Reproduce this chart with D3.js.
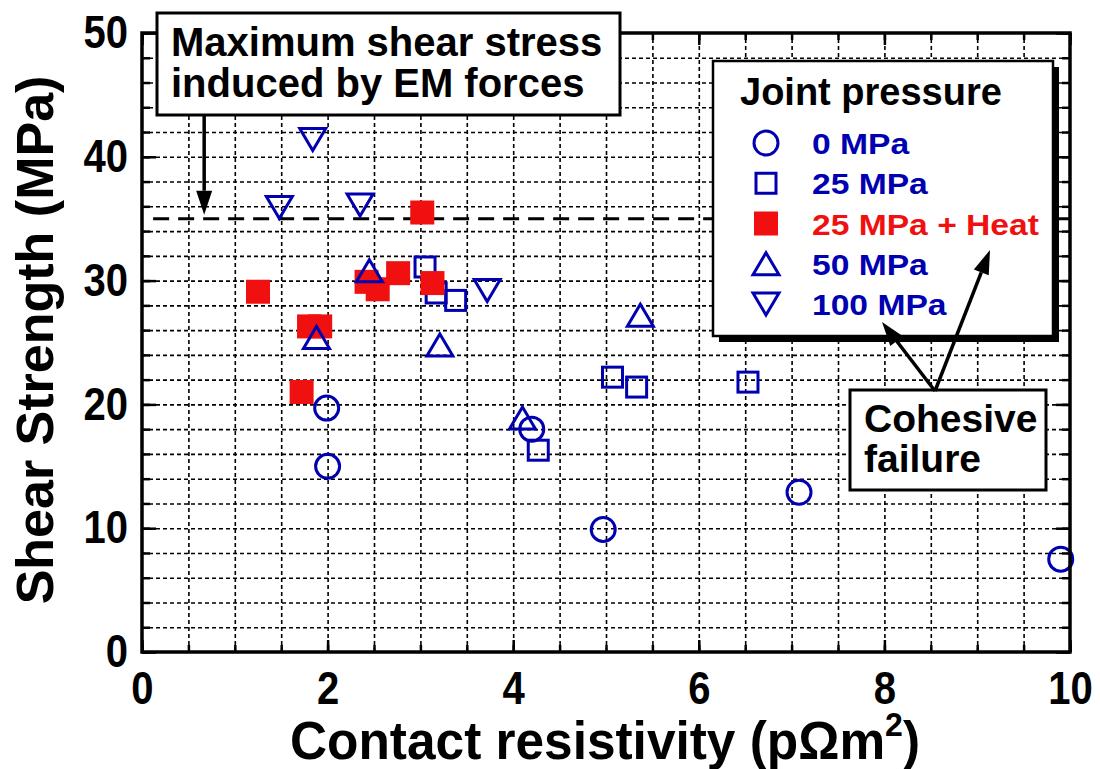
<!DOCTYPE html>
<html>
<head>
<meta charset="utf-8">
<script src="https://cdn.jsdelivr.net/npm/d3@7"></script>
<style>
  body { margin: 0; background: #fff; }
  text { font-family: "Liberation Sans", Arial, sans-serif; font-weight: bold; }
</style>
</head>
<body>
<div id="chart"></div>
<script>
// series: [resistivity, shear strength]
var seriesNames = ["0 MPa", "25 MPa", "25 MPa + Heat", "50 MPa", "100 MPa"];
var mpa0 = [[1.99, 19.7], [2.0, 15.0], [4.2, 18.0], [4.97, 9.9], [7.08, 12.9], [9.9, 7.5]];
var mpa25 = [[3.05, 31.1], [3.17, 29.0], [3.38, 28.4], [4.27, 16.3], [5.07, 22.2], [5.33, 21.4], [6.53, 21.8]];
var mpa25heat = [[1.25, 29.1], [1.72, 21.0], [1.8, 26.3], [1.92, 26.3], [2.42, 29.9], [2.54, 29.3], [2.76, 30.6], [3.02, 35.5], [3.13, 29.8]];
var mpa50 = [[1.88, 25.4], [2.45, 30.8], [3.21, 24.8], [4.1, 18.9], [5.37, 27.2]];
var mpa100 = [[1.48, 35.9], [1.84, 41.4], [2.35, 36.1], [3.72, 29.2]];
var emLimit = 35;
var xTicks = [0, 2, 4, 6, 8, 10];
var yTicks = [0, 10, 20, 30, 40, 50];

var blue = "#0000b0";
var red = "#f01010";

var svgWidth = 1100;
var svgHeight = 769;
var margin = { top: 33, right: 30, bottom: 117, left: 142 };

var svg = d3.select("#chart")
  .append("svg")
  .attr("width", svgWidth)
  .attr("height", svgHeight);

var x = d3.scaleLinear().domain([0, 10]).range([margin.left, svgWidth - margin.right]);
var y = d3.scaleLinear().domain([0, 50]).range([svgHeight - margin.bottom, margin.top]);

var x0 = x(0), x1 = x(10), y0 = y(0), y1 = y(50);
var plotH = y0 - y1, plotW = x1 - x0;

// squeeze or stretch text horizontally like the scanned figure
function stretch(sel, k) {
  sel.each(function() {
    var w = this.getComputedTextLength();
    d3.select(this).attr("textLength", w * k).attr("lengthAdjust", "spacingAndGlyphs");
  });
}

// dotted grid
var grid = svg.append("g").attr("class", "grid");
grid.append("g")
  .attr("transform", `translate(0, ${y0})`)
  .call(d3.axisBottom(x).tickValues(d3.range(0.5, 10, 0.5)).tickSize(-plotH).tickFormat(""));
grid.append("g")
  .attr("transform", `translate(${x0}, 0)`)
  .call(d3.axisLeft(y).tickValues(d3.range(2, 50, 2)).tickSize(-plotW).tickFormat(""));
grid.selectAll(".domain").remove();
grid.selectAll("line")
  .attr("stroke", "#000")
  .attr("stroke-width", 1.6)
  .attr("stroke-dasharray", "4,3");

// EM force limit line
svg.append("line")
  .attr("x1", x(0.12)).attr("x2", x(10))
  .attr("y1", y(emLimit)).attr("y2", y(emLimit))
  .attr("stroke", "#000")
  .attr("stroke-width", 3)
  .attr("stroke-dasharray", "16,9");

// markers
function tri(up) {
  var h = 11, w = 13;
  return up ? `M0,${-h}L${w},${h}L${-w},${h}Z` : `M0,${h}L${w},${-h}L${-w},${-h}Z`;
}
function drawMarker(g, kind) {
  if (kind === 0) {
    g.append("circle").attr("r", 12).attr("fill", "none").attr("stroke", blue).attr("stroke-width", 3);
  } else if (kind === 1) {
    g.append("rect").attr("x", -10).attr("y", -10).attr("width", 20).attr("height", 20)
      .attr("fill", "none").attr("stroke", blue).attr("stroke-width", 3);
  } else if (kind === 2) {
    g.append("rect").attr("x", -12).attr("y", -12).attr("width", 24).attr("height", 24)
      .attr("fill", red);
  } else {
    g.append("path").attr("d", tri(kind === 3)).attr("fill", "none")
      .attr("stroke", blue).attr("stroke-width", 3).attr("stroke-linejoin", "miter");
  }
}

var allSeries = [mpa0, mpa25, mpa25heat, mpa50, mpa100];
allSeries.forEach(function(data, k) {
  svg.append("g").selectAll("g")
    .data(data)
    .enter()
    .append("g")
    .attr("transform", d => `translate(${x(d[0])}, ${y(d[1])})`)
    .each(function() { drawMarker(d3.select(this), k); });
});

// frame and inward ticks
var axes = svg.append("g");
function tickAxis(axisFn, scale, vals, size, tr) {
  axes.append("g")
    .attr("transform", tr)
    .call(axisFn(scale).tickValues(vals).tickSize(-size).tickFormat(""));
}
var xMinor = d3.range(0, 10.01, 0.5), yMinor = d3.range(0, 50.1, 2);
tickAxis(d3.axisBottom, x, xMinor, 7, `translate(0, ${y0})`);
tickAxis(d3.axisBottom, x, xTicks, 12, `translate(0, ${y0})`);
tickAxis(d3.axisTop, x, xMinor, 7, `translate(0, ${y1})`);
tickAxis(d3.axisTop, x, xTicks, 12, `translate(0, ${y1})`);
tickAxis(d3.axisLeft, y, yMinor, 8, `translate(${x0}, 0)`);
tickAxis(d3.axisLeft, y, yTicks, 14, `translate(${x0}, 0)`);
tickAxis(d3.axisRight, y, yMinor, 8, `translate(${x1}, 0)`);
tickAxis(d3.axisRight, y, yTicks, 14, `translate(${x1}, 0)`);
axes.selectAll(".domain").remove();
axes.selectAll("line").attr("stroke", "#000").attr("stroke-width", 2.5);

svg.append("rect")
  .attr("x", x0).attr("y", y1).attr("width", plotW).attr("height", plotH)
  .attr("fill", "none").attr("stroke", "#000").attr("stroke-width", 3.5);

// tick labels
var xLab = svg.append("g")
  .attr("transform", `translate(0, ${y0})`)
  .call(d3.axisBottom(x).tickValues(xTicks).tickSize(0).tickPadding(19).tickFormat(d3.format("d")));
var yLab = svg.append("g")
  .attr("transform", `translate(${x0}, 0)`)
  .call(d3.axisLeft(y).tickValues(yTicks).tickSize(0).tickPadding(14).tickFormat(d3.format("d")));
[xLab, yLab].forEach(function(g) {
  g.select(".domain").remove();
  g.selectAll("text").attr("font-size", 46).attr("fill", "#000")
    .style("font-family", '"Liberation Sans", Arial, sans-serif').style("font-weight", "bold")
    .call(stretch, 0.87);
});

// axis titles
var xTitle = svg.append("text")
  .attr("x", 605).attr("y", 759)
  .attr("text-anchor", "middle")
  .attr("font-size", 53);
xTitle.append("tspan").text("Contact resistivity (p\u03A9m");
xTitle.append("tspan").attr("font-size", 33).attr("dy", -23).text("2");
xTitle.append("tspan").attr("dy", 23).text(")");
xTitle.attr("textLength", 630).attr("lengthAdjust", "spacingAndGlyphs");

svg.append("text")
  .attr("transform", "translate(53, 340) rotate(-90)")
  .attr("text-anchor", "middle")
  .attr("font-size", 52)
  .text("Shear Strength (MPa)");

// annotation: max shear stress
var tipX = x(0.67), tipY = y(emLimit) - 4;
function arrow(xa, ya, xb, yb) {
  var ang = Math.atan2(yb - ya, xb - xa);
  var len = 24, half = 8;
  var bx = xb - len * Math.cos(ang), by = yb - len * Math.sin(ang);
  svg.append("line")
    .attr("x1", xa).attr("y1", ya).attr("x2", bx).attr("y2", by)
    .attr("stroke", "#000").attr("stroke-width", 3.5);
  var px = -Math.sin(ang) * half, py = Math.cos(ang) * half;
  svg.append("path")
    .attr("d", `M${xb},${yb}L${bx + px},${by + py}L${bx - px},${by - py}Z`)
    .attr("fill", "#000");
}

svg.append("rect")
  .attr("x", 157).attr("y", 13).attr("width", 463).attr("height", 102)
  .attr("fill", "#fff").attr("stroke", "#000").attr("stroke-width", 3);
svg.append("text").attr("x", 171).attr("y", 56).attr("font-size", 40).text("Maximum shear stress");
svg.append("text").attr("x", 171).attr("y", 97).attr("font-size", 40).text("induced by EM forces");
arrow(tipX, 115, tipX, tipY);

// legend
var lg = svg.append("g");
lg.append("rect")
  .attr("x", 719).attr("y", 67).attr("width", 340).attr("height", 275)
  .attr("fill", "#000");
lg.append("rect")
  .attr("x", 713).attr("y", 61).attr("width", 340).attr("height", 275)
  .attr("fill", "#fff").attr("stroke", "#000").attr("stroke-width", 2.5);
lg.append("text").attr("x", 740).attr("y", 105).attr("font-size", 38).attr("fill", "#000")
  .text("Joint pressure");
var rowY = d3.scaleLinear().domain([0, 4]).range([143, 304]);
seriesNames.forEach(function(name, k) {
  var row = lg.append("g").attr("transform", `translate(766, ${rowY(k)})`);
  drawMarker(row, k);
  lg.append("text")
    .attr("x", 812).attr("y", rowY(k) + 11)
    .attr("font-size", 30)
    .attr("fill", k === 2 ? red : blue)
    .text(name)
    .call(stretch, 1.12);
});

// annotation: cohesive failure
svg.append("rect")
  .attr("x", 850).attr("y", 390).attr("width", 196).attr("height", 100)
  .attr("fill", "#fff").attr("stroke", "#000").attr("stroke-width", 3);
svg.append("text").attr("x", 864).attr("y", 432).attr("font-size", 39).text("Cohesive");
svg.append("text").attr("x", 864).attr("y", 472).attr("font-size", 39).text("failure");
arrow(935, 391, 882, 322);
arrow(935, 391, 990, 250);
</script>
</body>
</html>
